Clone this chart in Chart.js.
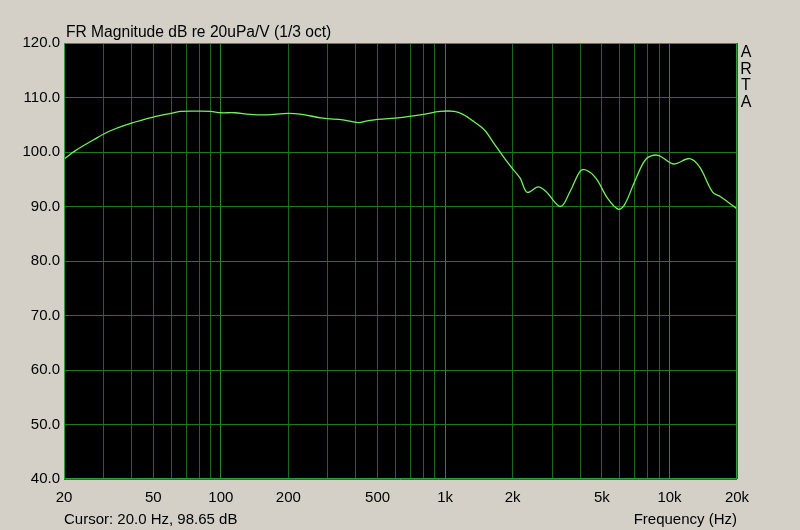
<!DOCTYPE html>
<html>
<head>
<meta charset="utf-8">
<script src="https://cdn.jsdelivr.net/npm/chart.js@4/dist/chart.umd.min.js"></script>
<style>
  html, body { margin: 0; padding: 0; background: #d4d0c8; }
  #wrap { width: 800px; height: 530px; }
</style>
</head>
<body>
<div id="wrap"><canvas id="fr"></canvas></div>
<script>
// frequency response (Hz / dB)
var freqs = [20, 22.4, 27, 32, 40, 50, 60, 66, 80, 90, 100, 115, 135, 160, 200, 230, 285, 350, 410, 450, 500, 630, 800, 950,
  1100, 1200, 1340, 1500, 1650, 1820, 2000, 2160, 2320, 2600, 2820, 3270, 3600, 4000, 4250, 4700, 5300, 5900, 6300,
  7000, 7900, 8900, 10400, 12300, 13600, 15600, 16900, 19800, 20000];
var levels = [98.7, 100.2, 102.2, 103.85, 105.3, 106.4, 107.1, 107.45, 107.5, 107.45, 107.2, 107.2, 106.9, 106.8, 107.1,
  106.9, 106.2, 105.9, 105.4, 105.7, 106.0, 106.3, 106.9, 107.45, 107.45, 106.9, 105.6, 104.0, 101.6, 99.1, 96.9, 95.2,
  92.6, 93.6, 92.7, 90.0, 92.7, 96.5, 96.7, 95.2, 91.5, 89.5, 90.3, 94.6, 98.8, 99.4, 97.8, 98.8, 97.3, 92.6, 91.8, 89.7, 89.5];

var gridFreqs = [20, 30, 40, 50, 60, 70, 80, 90, 100, 200, 300, 400, 500, 600, 700, 800, 900, 1000,
  2000, 3000, 4000, 5000, 6000, 7000, 8000, 9000, 10000, 20000];
var labelFreqs = [20, 50, 100, 200, 500, 1000, 2000, 5000, 10000, 20000];
var labelTexts = ['20', '50', '100', '200', '500', '1k', '2k', '5k', '10k', '20k'];
var majorFreqs = [100, 1000, 10000];

var title = 'FR Magnitude dB re 20uPa/V (1/3 oct)';
var cursorText = 'Cursor: 20.0 Hz, 98.65 dB';
var xTitle = 'Frequency (Hz)';
var sideText = ['A', 'R', 'T', 'A'];

var FONT = '"Liberation Sans", Arial, sans-serif';

var decor = {
  id: 'decor',
  beforeDraw: function(chart) {
    var c = chart.ctx, a = chart.chartArea;
    c.save();
    c.fillStyle = '#d4d0c8';
    c.fillRect(0, 0, chart.width, chart.height);
    c.fillStyle = '#000';
    c.fillRect(a.left, a.top, a.right - a.left, a.bottom - a.top);
    c.restore();
  },
  afterDraw: function(chart) {
    var c = chart.ctx, a = chart.chartArea;
    c.save();
    c.strokeStyle = '#2f9a3a';
    c.lineWidth = 1;
    c.strokeRect(a.left + 0.5, a.top + 0.5, a.right - a.left - 1, a.bottom - a.top - 1);
    c.fillStyle = '#000';
    c.font = '15.6px ' + FONT;
    c.textBaseline = 'alphabetic';
    c.textAlign = 'left';
    c.fillText(title, a.left + 2, a.top - 6);
    c.font = '15px ' + FONT;
    c.fillText(cursorText, a.left, 524);
    c.textAlign = 'right';
    c.fillText(xTitle, a.right, 524);
    c.textAlign = 'center';
    c.font = '16px ' + FONT;
    for (var i = 0; i < sideText.length; i++) {
      c.fillText(sideText[i], 746, 57 + i * 16.5);
    }
    c.restore();
  }
};

new Chart(document.getElementById('fr'), {
  type: 'line',
  data: {
    datasets: [{
      data: freqs.map(function(f, i) { return { x: f, y: levels[i] }; }),
      borderColor: '#74f060',
      borderWidth: 1.3,
      pointRadius: 0,
      tension: 0.35,
      fill: false
    }]
  },
  options: {
    responsive: true,
    maintainAspectRatio: false,
    animation: false,
    layout: { padding: { left: 0, top: 43, right: 63, bottom: 0 } },
    plugins: { legend: { display: false }, tooltip: { enabled: false } },
    scales: {
      x: {
        type: 'logarithmic',
        min: 20,
        max: 20000,
        afterBuildTicks: function(scale) {
          scale.ticks = gridFreqs.map(function(v) { return { value: v }; });
        },
        afterFit: function(scale) { scale.height = 51; },
        ticks: {
          autoSkip: false,
          maxRotation: 0,
          padding: 10,
          color: '#000',
          font: { family: FONT, size: 15 },
          callback: function(v) {
            var k = labelFreqs.indexOf(v);
            return k < 0 ? '' : labelTexts[k];
          }
        },
        grid: {
          drawTicks: false,
          color: function(ctx) {
            var v = ctx.tick && ctx.tick.value;
            return majorFreqs.indexOf(v) >= 0 ? '#2a8a2a' : '#1c6a1c';
          },
          lineWidth: 1
        },
        border: { display: false }
      },
      y: {
        min: 40,
        max: 120,
        afterFit: function(scale) { scale.width = 64; },
        ticks: {
          stepSize: 10,
          padding: 4,
          color: '#000',
          font: { family: FONT, size: 15 },
          callback: function(v) { return v.toFixed(1); }
        },
        grid: { drawTicks: false, color: '#1f7a1f', lineWidth: 1 },
        border: { display: false }
      }
    }
  },
  plugins: [decor]
});
</script>
</body>
</html>
